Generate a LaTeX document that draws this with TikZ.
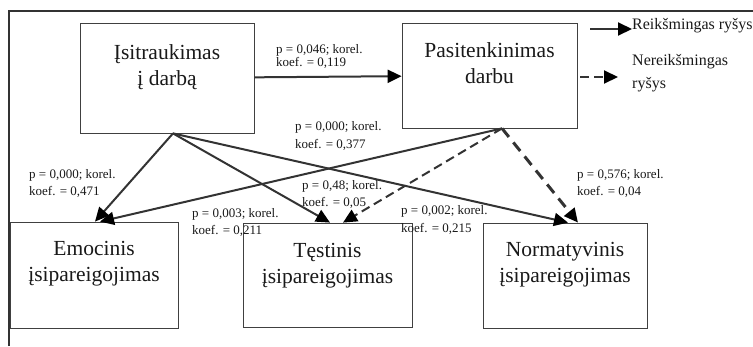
\documentclass[tikz,border=0pt]{standalone}
\usepackage{fontspec}
\setmainfont{Liberation Serif}
\usepackage{tikz}
\usetikzlibrary{positioning}
\usetikzlibrary{arrows.meta}
\tikzset{
  box/.style = {draw=black!75, line width=0.8pt, inner sep=0pt},
  boxtext/.style = {align=center, inner sep=0pt, text=black!90,
    font=\fontsize{21.5}{26}\selectfont},
  weight/.style = {align=left, anchor=west, inner sep=0pt, text=black!90,
    font=\fontsize{13}{17.5}\selectfont},
  legtext/.style = {align=left, anchor=west, inner sep=0pt, text=black!90,
    font=\fontsize{16}{23}\selectfont},
  sig/.style = {draw=black!80, line width=2pt,
    -{Triangle[length=14pt,width=13pt,color=black]}},
  nonsig/.style = {sig, dash pattern=on 9pt off 5pt},
  nonsigthick/.style = {nonsig, line width=3pt, dash pattern=on 11pt off 7pt},
}
\begin{document}
\begin{tikzpicture}[x=1pt,y=-1pt]
  \useasboundingbox (0,0) rectangle (753,346);
  % frame
  \draw[black!80, line width=1.5pt] (9,346) -- (9,11) -- (753,11);

  % boxes
  \node[box, minimum width=174pt, minimum height=110pt] (isitr) at (167,78) {};
  \node[box, minimum width=175pt, minimum height=105pt] (pasit) at (489.5,75.5) {};
  \node[box, minimum width=168pt, minimum height=106pt] (emoc) at (94,275) {};
  \node[box, minimum width=169pt, minimum height=104pt] (test) at (327.5,275) {};
  \node[box, minimum width=164pt, minimum height=105pt] (norm) at (565,275.5) {};

  \node[boxtext, below=22pt of isitr.north] (isitr-t) {Įsitraukimas\\ į darbą};
  \node[boxtext, below=20pt of pasit.north] (pasit-t) {Pasitenkinimas\\ darbu};
  \node[boxtext, below=19pt of emoc.north] (emoc-t) {Emocinis\\ įsipareigojimas};
  \node[boxtext, below=20pt of test.north] (test-t) {Tęstinis\\ įsipareigojimas};
  \node[boxtext, below=19pt of norm.north] (norm-t) {Normatyvinis\\ įsipareigojimas};

  % connectors
  \coordinate (isitr-out) at ([xshift=6pt]isitr.south);
  \coordinate (pasit-out) at ([xshift=12.5pt]pasit.south);
  \path[sig] (isitr) -- (pasit);
  \path[sig] (isitr-out) -- ([xshift=1pt]emoc.north);
  \path[sig] (isitr-out) -- ([xshift=2.5pt]test.north);
  \path[sig] (isitr-out) -- ([xshift=3pt]norm.north);
  \path[sig] (pasit-out) -- ([xshift=6pt]emoc.north);
  \path[nonsig] (pasit-out) -- ([xshift=15.5pt]test.north);
  \path[nonsigthick] (pasit-out) -- ([xshift=13pt]norm.north);

  % weights
  \node[weight] (w1) at (276,56.5) {p = 0,046; korel.\\[-4pt] koef. = 0,119};
  \node[weight] (w2) at (295,136) {p = 0,000; korel.\\ koef. = 0,377};
  \node[weight] (w3) at (29,183.5) {p = 0,000; korel.\\ koef. = 0,471};
  \node[weight] (w4) at (302,194.5) {p = 0,48; korel.\\ koef. = 0,05};
  \node[weight] (w5) at (192,222.5) {p = 0,003; korel.\\ koef. = 0,211};
  \node[weight] (w6) at (401,220) {p = 0,002; korel.\\ koef. = 0,215};
  \node[weight] (w7) at (577,183.5) {p = 0,576; korel.\\ koef. = 0,04};

  % legend
  \node[legtext] (reiksm) at (632,26) {Reikšmingas ryšys};
  \node[legtext] (nereiksm) at (632,73.5) {Nereikšmingas\\ ryšys};
  \coordinate (leg1) at (590,29);
  \coordinate (leg2) at (580,77);
  \coordinate (leg2-end) at (618,77);
  \path[sig] (leg1) -- (reiksm.west |- leg1);
  \path[nonsig] (leg2) -- (leg2-end);
\end{tikzpicture}
\end{document}
